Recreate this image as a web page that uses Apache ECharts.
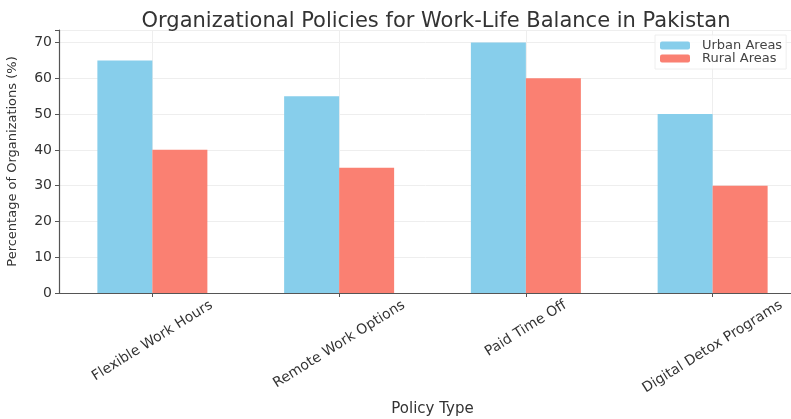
<html>
  <head>
    <meta charset="utf-8">
    <script src="https://cdn.jsdelivr.net/npm/echarts@6/dist/echarts.min.js"></script>
    <style>
      body { margin: 0; background-color: #fff; }
      #chart { width: 791px; height: 419px; }
    </style>
  </head>
  <body>
    <div id="chart"></div>
  </body>
  <script>
    // data
    var policies = ['Flexible Work Hours', 'Remote Work Options', 'Paid Time Off', 'Digital Detox Programs'];
    var urban = [65, 55, 70, 50];
    var rural = [40, 35, 60, 30];
    var yTicks = [0, 10, 20, 30, 40, 50, 60, 70];

    var font = 'DejaVu Sans';
    var labelSize = 14;
    var labelRot = 32;
    var chart = echarts.init(document.getElementById('chart'));

    var opt = {
        animation: false,
        textStyle: { fontFamily: font },
        title: {
            text: 'Organizational Policies for Work-Life Balance in Pakistan',
            left: 431, top: 6, textAlign: 'center',
            textStyle: { fontFamily: font, fontSize: 21, fontWeight: 'normal', color: '#333' }
        },
        legend: {
            left: 655, top: 35, orient: 'vertical', itemGap: 0,
            itemWidth: 30, itemHeight: 8,
            backgroundColor: 'rgba(255,255,255,0.8)', borderColor: '#eee', borderWidth: 1,
            padding: [4, 4, 4, 5],
            textStyle: { fontFamily: font, fontSize: 13, color: '#444', padding: [0, 0, 0, 7] },
            data: ['Urban Areas', 'Rural Areas']
        },
        grid: { left: 59, width: 747, top: 30, bottom: 126, outerBoundsMode: 'none', containLabel: false },
        xAxis: {
            type: 'category',
            data: policies,
            name: 'Policy Type', nameLocation: 'middle', nameGap: 109,
            nameTextStyle: { fontFamily: font, fontSize: 15, color: '#333' },
            axisLine: { lineStyle: { color: '#555', width: 1.2 } },
            axisTick: { show: true, alignWithLabel: true, length: 4, lineStyle: { color: '#555' } },
            axisLabel: { show: false },
            splitLine: { show: true, alignWithLabel: true, lineStyle: { color: '#eee' } }
        },
        yAxis: {
            type: 'value', min: 0, max: 73.5, interval: 10,
            name: 'Percentage of Organizations (%)', nameLocation: 'middle', nameGap: 40,
            nameTextStyle: { fontFamily: font, fontSize: 13, color: '#333' },
            axisLine: { show: true, lineStyle: { color: '#555', width: 1.2 } },
            axisTick: { show: true, length: 4, lineStyle: { color: '#555' } },
            axisLabel: {
                fontSize: 14, color: '#333', margin: 7,
                formatter: function (v) { return yTicks.indexOf(v) >= 0 ? String(v) : ''; }
            },
            splitLine: { show: true, lineStyle: { color: '#eee' } }
        },
        series: [
            { name: 'Urban Areas', type: 'bar', data: urban, barWidth: 55, barGap: '0%',
              itemStyle: { color: '#87CEEB' } },
            { name: 'Rural Areas', type: 'bar', data: rural, barWidth: 55,
              itemStyle: { color: '#FA8072' } }
        ]
    };
    chart.setOption(opt);

    // rotated category labels, centred under each tick with their tops level
    var ctx = document.createElement('canvas').getContext('2d');
    ctx.font = labelSize + 'px "' + font + '"';
    var a = labelRot * Math.PI / 180;
    var axisY = chart.convertToPixel({ yAxisIndex: 0 }, 0);
    var labels = [];
    for (let i in policies) {
        var px = chart.convertToPixel({ xAxisIndex: 0 }, Number(i));
        var w = ctx.measureText(policies[i]).width;
        var boxH = w * Math.sin(a) + labelSize * Math.cos(a);
        labels.push({
            type: 'text', x: px, y: axisY + 5 + boxH / 2, rotation: a,
            style: { text: policies[i], fontFamily: font, fontSize: labelSize, fill: '#333',
                     align: 'center', verticalAlign: 'middle' }
        });
    }
    chart.setOption({ graphic: labels });
  </script>
</html>
